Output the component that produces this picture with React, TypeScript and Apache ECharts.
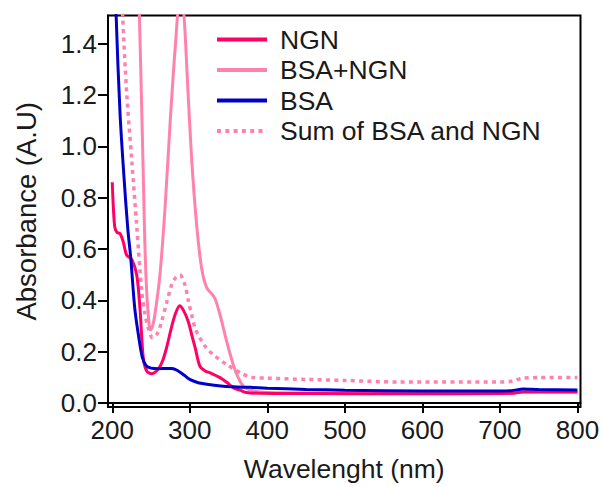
import React, { useEffect, useRef } from "react";
import * as echarts from "echarts";

// Tick labels
const xTicks = [200, 300, 400, 500, 600, 700, 800];
const yTicks = [0, 0.2, 0.4, 0.6, 0.8, 1.0, 1.2, 1.4];

// NGN
const ngnWl = [200, 203, 206, 210, 214, 218.6, 225, 231.5, 235.7, 240, 244.4, 250.8, 259, 265, 270, 276, 281, 287, 292, 298, 303, 307, 313, 320, 326, 339, 348, 356, 365, 373, 390, 450, 600, 700, 715, 730, 800];
const ngnAbs = [0.86, 0.69, 0.665, 0.66, 0.63, 0.576, 0.56, 0.5, 0.37, 0.176, 0.125, 0.114, 0.131, 0.165, 0.215, 0.29, 0.344, 0.379, 0.36, 0.318, 0.26, 0.215, 0.144, 0.125, 0.118, 0.099, 0.08, 0.06, 0.05, 0.041, 0.038, 0.037, 0.036, 0.037, 0.038, 0.043, 0.043];

// BSA+NGN
const mixWl = [220, 228, 232, 235, 238, 240, 242, 244.4, 247.8, 249.5, 252, 255, 261.5, 268, 274.4, 281, 288, 292.5, 296.7, 302.4, 308.9, 315.3, 321.8, 332, 339, 347.5, 356, 362.5, 369, 382, 400, 500, 600, 700, 715, 730, 800];
const mixAbs = [3.0, 2.3, 1.8, 1.51, 1.144, 0.886, 0.628, 0.435, 0.299, 0.286, 0.3, 0.344, 0.499, 0.757, 1.08, 1.377, 1.6, 1.51, 1.273, 0.951, 0.692, 0.525, 0.45, 0.41, 0.344, 0.241, 0.15, 0.099, 0.066, 0.047, 0.041, 0.039, 0.038, 0.038, 0.039, 0.044, 0.044];

// BSA
const bsaWl = [200, 202, 205, 210, 215, 220, 224, 229, 235, 239, 244, 250, 259, 270, 277, 285, 293, 300, 310, 322, 340, 356, 378, 400, 450, 500, 600, 700, 715, 730, 750, 800];
const bsaAbs = [2.5, 1.9, 1.51, 1.13, 0.886, 0.68, 0.56, 0.37, 0.24, 0.176, 0.144, 0.136, 0.134, 0.135, 0.135, 0.125, 0.108, 0.092, 0.08, 0.073, 0.066, 0.063, 0.061, 0.058, 0.053, 0.05, 0.047, 0.047, 0.048, 0.055, 0.053, 0.051];

// Sum of BSA and NGN
const sumWl = [205, 210, 213.4, 218.6, 225, 231.5, 238, 242, 246.4, 252, 258, 263.7, 270, 276.6, 282, 287.3, 293.8, 298, 302.4, 307, 313, 320, 330, 347.5, 369, 380, 400, 450, 500, 570, 700, 715, 730, 750, 800];
const sumAbs = [2.2, 1.85, 1.51, 1.209, 0.951, 0.692, 0.435, 0.35, 0.292, 0.254, 0.27, 0.318, 0.39, 0.46, 0.49, 0.499, 0.46, 0.4, 0.344, 0.29, 0.254, 0.22, 0.189, 0.15, 0.112, 0.1, 0.097, 0.092, 0.088, 0.082, 0.082, 0.085, 0.097, 0.099, 0.099];

const zip = (xs: number[], ys: number[]) => xs.map((x, i) => [x, ys[i]]);

const FONT = "Liberation Sans, Arial, sans-serif";
const TEXT = "#1a1a1a";

export default function App() {
  const ref = useRef<HTMLDivElement>(null);
  useEffect(() => {
    document.body.style.margin = "0";
    if (!ref.current) return;
    const chart = echarts.init(ref.current, null, { renderer: "svg" });
    const mk = (name: string, wl: number[], ab: number[], color: string, type: any, width: number) => ({
      name,
      type: "line",
      data: zip(wl, ab),
      symbol: "none",
      smooth: 0.3,
      clip: true,
      lineStyle: { color, width, type, cap: "butt" },
      itemStyle: { color },
    });
    chart.setOption({
      animation: false,
      textStyle: { fontFamily: FONT },
      grid: {
        left: 108,
        top: 15.5,
        width: 472.5,
        height: 394,
        show: true,
        borderColor: "#000",
        borderWidth: 2,
        backgroundColor: "transparent",
      },
      legend: {
        orient: "vertical",
        left: 215,
        top: 26,
        padding: 0,
        itemWidth: 50,
        itemHeight: 14,
        itemGap: 3.5,
        itemStyle: { opacity: 0 },
        lineStyle: { width: 4 },
        textStyle: { fontSize: 26.5, color: TEXT, fontFamily: FONT, padding: [0, 0, 0, 8] },
        data: ["NGN", "BSA+NGN", "BSA", "Sum of BSA and NGN"],
      },
      xAxis: {
        type: "value",
        min: 194.5,
        max: 804,
        name: "Wavelenght (nm)",
        nameLocation: "middle",
        nameGap: 48,
        nameTextStyle: { fontSize: 26.5, color: TEXT, fontFamily: FONT },
        axisLine: { show: true, lineStyle: { color: "#000", width: 2 } },
        axisTick: { show: true, length: 10, lineStyle: { color: "#000", width: 2 }, customValues: xTicks },
        axisLabel: { fontSize: 26, color: TEXT, margin: 10, fontFamily: FONT, customValues: xTicks },
        splitLine: { show: false },
      },
      yAxis: {
        type: "value",
        min: -0.0155,
        max: 1.51,
        name: "Absorbance (A.U)",
        nameLocation: "middle",
        nameGap: 68,
        nameTextStyle: { fontSize: 27.5, color: TEXT, fontFamily: FONT },
        axisLine: { show: true, lineStyle: { color: "#000", width: 2 } },
        axisTick: { show: true, length: 10, lineStyle: { color: "#000", width: 2 }, customValues: yTicks },
        axisLabel: {
          fontSize: 26,
          color: TEXT,
          margin: 11,
          fontFamily: FONT,
          customValues: yTicks,
          formatter: (v: number) => v.toFixed(1),
        },
        splitLine: { show: false },
      },
      series: [
        mk("BSA+NGN", mixWl, mixAbs, "#FF82AE", "solid", 3),
        mk("Sum of BSA and NGN", sumWl, sumAbs, "#FF82AE", [4, 4.3], 3.5),
        mk("NGN", ngnWl, ngnAbs, "#FF0066", "solid", 3),
        mk("BSA", bsaWl, bsaAbs, "#0000C8", "solid", 3),
      ],
    });
    return () => chart.dispose();
  }, []);
  return <div ref={ref} style={{ width: 603, height: 487 }} />;
}
